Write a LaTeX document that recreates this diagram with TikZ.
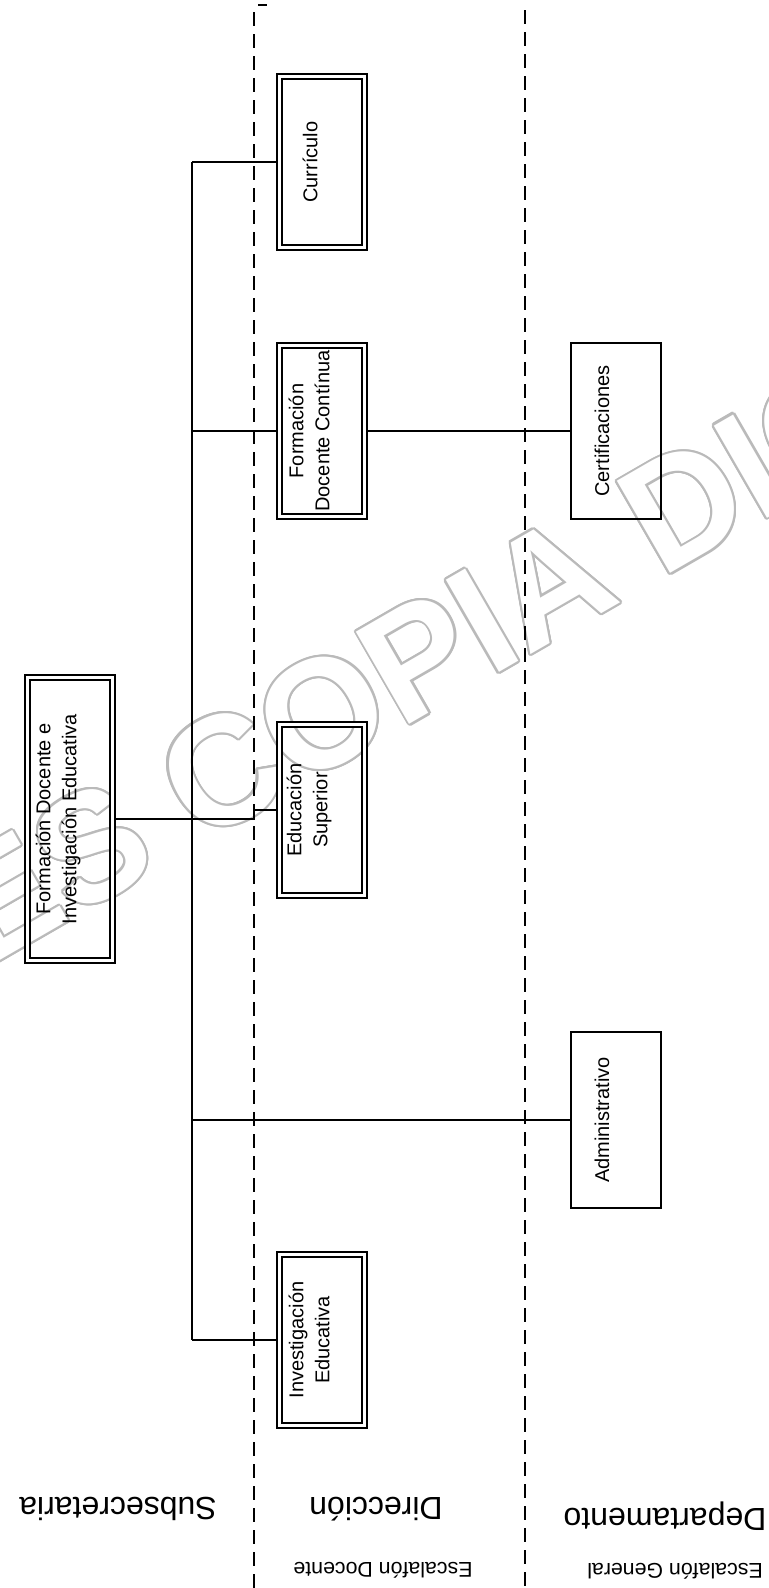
\documentclass[tikz,border=0pt]{standalone}
\usepackage{fontspec}
\setmainfont{Liberation Sans}
\begin{document}
\begin{tikzpicture}[x=0.75pt,y=-0.75pt,
  conn/.style={line width=1.2pt},
  dashline/.style={line width=1.5pt, dash pattern=on 10.5pt off 6pt},
  dbox/.style={draw, line width=1.3pt, double=white, double distance=2.4pt, outer sep=2.5pt, minimum width=64pt, minimum height=128.5pt, inner sep=0pt},
  sbox/.style={draw, line width=1.5pt, outer sep=0.75pt, minimum width=67.5pt, minimum height=132pt, inner sep=0pt},
  btxt/.style={rotate=90, align=center, inner sep=0pt, font=\fontsize{15}{19.5}\selectfont},
  biglbl/.style={rotate=180, anchor=base, inner sep=0pt, font=\fontsize{24}{28}\selectfont},
  smalllbl/.style={rotate=180, anchor=base, inner sep=0pt, font=\fontsize{16}{19}\selectfont},
  wm/.style={rotate=30, anchor=base west, inner sep=0pt, font=\fontsize{116}{120}\selectfont\bfseries}
]
\fill[white] (0,0) rectangle (768,1588);
\useasboundingbox (0,0) rectangle (768,1588);

% watermark (outlined letters)
\foreach \dx/\dy [count=\i] in {1.6/0,-1.6/0,0/1.6,0/-1.6,1.13/1.13,-1.13/1.13,1.13/-1.13,-1.13/-1.13,1.48/0.61,-1.48/0.61,1.48/-0.61,-1.48/-0.61,0.61/1.48,-0.61/1.48,0.61/-1.48,-0.61/-1.48}
  \node[wm, text=black!27, xshift=\dx pt, yshift=\dy pt] (wmo\i) at (-16,970) {ES COPIA DIGITAL};
\node[wm, text=white] (wm) at (-16,970) {ES COPIA DIGITAL};

% dashed separators
\coordinate (d1t) at (254,12);
\coordinate (d1b) at (254,1588);
\coordinate (d2t) at (525,10);
\coordinate (d2b) at (525,1588);
\draw[dashline] (d1t) -- (d1b);
\draw[dashline] (d2t) -- (d2b);
\coordinate (tk1) at (258,5);
\coordinate (tk2) at (267,5);
\draw[line width=1.4pt] (tk1) -- (tk2);

% boxes
\node[dbox, minimum height=212.5pt] (T) at (70,819) {};
\node[dbox] (C) at (322,162) {};
\node[dbox] (F) at (322,431) {};
\node[dbox] (E) at (322,810) {};
\node[dbox] (I) at (322,1340) {};
\node[sbox] (K) at (616,431) {};
\node[sbox] (A) at (616,1120) {};

% box texts
\node[btxt] (tT) at (58,819) {Formación Docente e\\Investigación Educativa};
\node[btxt] (tC) at (310,162) {Currículo};
\node[btxt] (tF) at (309,431) {Formación\\Docente Contínua};
\node[btxt] (tE) at (309,810) {Educación\\Superior};
\node[btxt] (tI) at (309,1340) {Investigación\\Educativa};
\node[btxt] (tK) at (602,431) {Certificaciones};
\node[btxt] (tA) at (602,1120) {Administrativo};

% connectors
\coordinate (trk) at (192,0);
\coordinate (jog) at (254,0);
\draw[conn] (C.west -| trk) -- (I.west -| trk);
\draw[conn] (C.west -| trk) -- (C.west);
\draw[conn] (F.west -| trk) -- (F.west);
\draw[conn] (F.east) -- (K.west);
\draw[conn] (T.east) -- (T.east -| jog) -- (E.west -| jog) -- (E.west);
\draw[conn] (A.west -| trk) -- (A.west);
\draw[conn] (I.west -| trk) -- (I.west);

% level labels
\node[biglbl] (Lsub) at (118,1497) {Subsecretaria};
\node[biglbl] (Ldir) at (376,1497) {Dirección};
\node[biglbl] (Ldep) at (665,1508) {Departamento};
\node[smalllbl] (Edoc) at (383,1562) {Escalafón Docente};
\node[smalllbl] (Egen) at (675,1563) {Escalafón General};
\end{tikzpicture}
\end{document}
